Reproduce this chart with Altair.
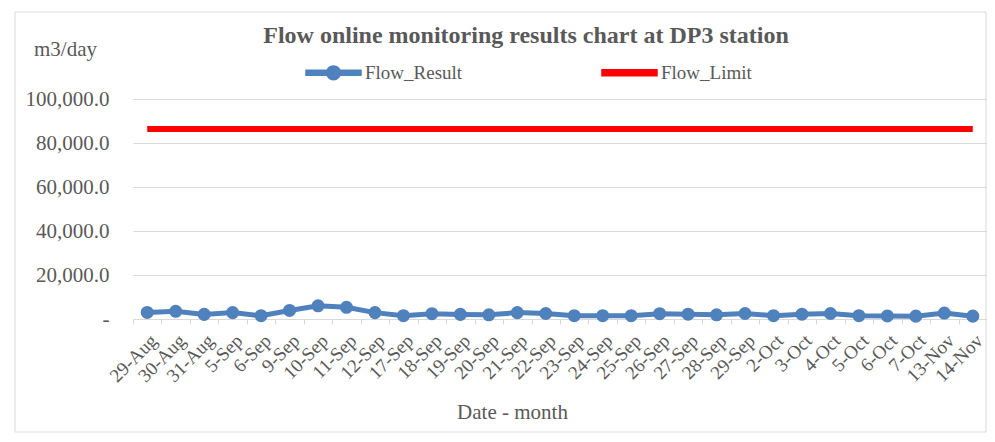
import altair as alt
import pandas as pd

dates = ["29-Aug", "30-Aug", "31-Aug", "5-Sep", "6-Sep", "9-Sep", "10-Sep", "11-Sep",
         "12-Sep", "17-Sep", "18-Sep", "19-Sep", "20-Sep", "21-Sep", "22-Sep", "23-Sep",
         "24-Sep", "25-Sep", "26-Sep", "27-Sep", "28-Sep", "29-Sep", "2-Oct", "3-Oct",
         "4-Oct", "5-Oct", "6-Oct", "7-Oct", "13-Nov", "14-Nov"]
flow_result = [3000, 3500, 2100, 2900, 1500, 3900, 6000, 5300, 2900, 1500,
               2400, 2100, 1900, 2900, 2500, 1500, 1500, 1500, 2400, 2200,
               1900, 2500, 1500, 2200, 2500, 1500, 1400, 1300, 2700, 1300]
flow_limit = [86400] * len(dates)
series_names = ["Flow_Result", "Flow_Limit"]
series_colors = ["#4F81BD", "#FF0000"]
y_ticks = [0, 20000, 40000, 60000, 80000, 100000]

rows = []
for d, v in zip(dates, flow_result):
    rows.append({"date": d, "series": "Flow_Result", "value": v})
for d, v in zip(dates, flow_limit):
    rows.append({"date": d, "series": "Flow_Limit", "value": v})
df = pd.DataFrame(rows)

FONT = "Liberation Serif"
GRAY = "#595959"

x_enc = alt.X("date:N", sort=dates, scale=alt.Scale(paddingInner=0, paddingOuter=0),
              axis=alt.Axis(title="Date - month", labelAngle=-45, labelFontSize=19,
                            labelFont=FONT, labelColor=GRAY, labelOverlap=False,
                            labelPadding=7,
                            tickBand="extent", tickSize=5, tickColor="#d9d9d9",
                            domainColor="#d9d9d9", grid=False,
                            titleFont=FONT, titleFontSize=21, titleFontWeight="normal",
                            titleColor=GRAY, titleX=379, titleY=99,
                            titleBaseline="alphabetic", titleAlign="center"))
y_enc = alt.Y("value:Q", scale=alt.Scale(domain=[0, 100000], nice=False),
              axis=alt.Axis(title="m3/day", values=y_ticks,
                            labelExpr="datum.value == 0 ? '-' : format(datum.value, ',.1f')",
                            labelFont=FONT, labelFontSize=21, labelColor=GRAY,
                            labelPadding=24, ticks=False, domain=False,
                            gridColor="#d9d9d9", gridWidth=1,
                            titleAngle=0, titleFont=FONT, titleFontSize=21,
                            titleFontWeight="normal", titleColor=GRAY,
                            titleX=-68, titleY=-44, titleAlign="center",
                            titleBaseline="alphabetic"))
color_scale = alt.Scale(domain=series_names, range=series_colors)

base = alt.Chart(df)

path_result = ("M-1,-0.09H1V0.09H-1Z "
               "M0.25,0A0.25,0.25 0 1,1 -0.25,0A0.25,0.25 0 1,1 0.25,0Z")
path_limit = "M-1,-0.11H1V0.11H-1Z"

legend_props = dict(title=None, orient="none", direction="horizontal",
                    legendX=172, legendY=-55, symbolSize=3025,
                    symbolOpacity=1, labelFont=FONT, labelFontSize=19,
                    labelColor=GRAY, labelOffset=3, columnPadding=136)

legend_layer = base.mark_point(filled=True, opacity=0).encode(
    x=x_enc, y=y_enc,
    color=alt.Color("series:N", scale=color_scale, legend=alt.Legend(**legend_props)),
    shape=alt.Shape("series:N", scale=alt.Scale(domain=series_names,
                                                range=[path_result, path_limit]),
                    legend=alt.Legend(**legend_props)),
)

lines = base.mark_line().encode(
    x=x_enc, y=y_enc,
    color=alt.Color("series:N", scale=color_scale, legend=None),
    strokeWidth=alt.condition(alt.datum.series == "Flow_Limit", alt.value(6), alt.value(5)),
)

points = base.transform_filter(alt.datum.series == "Flow_Result").mark_point(
    filled=True, size=170, opacity=1).encode(
    x=x_enc, y=y_enc,
    color=alt.Color("series:N", scale=color_scale, legend=None),
)

border = alt.Chart(pd.DataFrame({"k": [0]})).mark_rect(
    fill=None, stroke="#d9d9d9", strokeWidth=1).encode(
    x=alt.value(-118), x2=alt.value(853), y=alt.value(-87), y2=alt.value(333))

chart = alt.layer(legend_layer, border, lines, points).properties(
    width=854, height=220,
    title=alt.TitleParams("Flow online monitoring results chart at DP3 station",
                          font=FONT, fontSize=24, fontWeight="bold", color=GRAY,
                          anchor="middle", dx=-34, dy=36, offset=0),
    autosize=alt.AutoSizeParams(type="none"),
    padding={"left": 125, "top": 91, "right": 0, "bottom": 114},
).configure_view(stroke=None)

chart.save("out.html", embed_options={"renderer": "svg", "actions": False})
